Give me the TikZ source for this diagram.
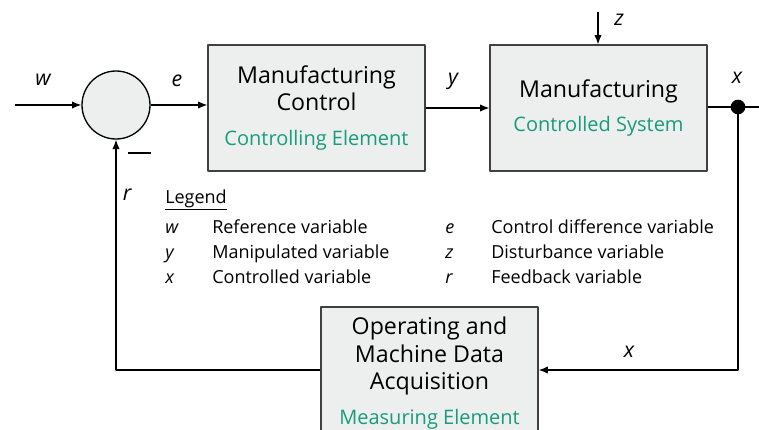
\documentclass[tikz,border=0pt]{standalone}
\usepackage{fontspec}
\setmainfont{Open Sans}
\usetikzlibrary{arrows.meta}
\definecolor{boxgray}{HTML}{EDEEEE}
\definecolor{fhgreen}{HTML}{179C7D}
\begin{document}
\begin{tikzpicture}[x=0.75pt,y=-0.75pt,line join=round,
	blok/.style={draw=black!75,fill=boxgray,line width=0.8pt,inner sep=0pt,
		minimum width=162.75pt,minimum height=94.5pt,align=center,
		font=\fontsize{17.4}{20.5}\selectfont},
	lbl/.style={font=\fontsize{16}{19}\selectfont\itshape},
	leg/.style={anchor=base west,inner sep=0pt,font=\fontsize{13.5}{16}\selectfont},
	arr/.style={-{Latex[length=7pt,width=5.5pt]},line width=1pt},
	ln/.style={line width=1pt}]
	%==khung hinh
	\clip (0,0) rectangle (759,429);
	%==cac khoi
	\node[circle,draw,fill=boxgray,line width=1pt,minimum size=51pt,inner sep=0pt] (sum) at (116,105) {};
	\node[blok] (ctrl) at (316.5,108) {Manufacturing\\Control\\[6pt]{\color{fhgreen}\fontsize{15}{17}\selectfont Controlling Element}};
	\node[blok] (sys) at (598.5,108) {Manufacturing\\[5pt]{\color{fhgreen}\fontsize{15}{17}\selectfont Controlled System}};
	\node[blok,minimum height=99.75pt] (meas) at (429.5,373.5) {Operating and\\Machine Data\\Acquisition\\[6pt]{\color{fhgreen}\fontsize{15}{17}\selectfont Measuring Element}};
	%==duong noi
	\coordinate (win) at (15,105);
	\coordinate (zin) at (598,12);
	\coordinate (out) at (770,107);
	\coordinate (k) at (738,370);
	\draw[arr] (win) -- (sum.west);
	\draw[arr] (sum.east) -- (sum.east -| ctrl.west);
	\draw[arr] (ctrl.east |- 0,108) -- (sys.west |- 0,108);
	\draw[arr] (zin) -- (zin |- sys.north);
	\draw[ln] (sys.east |- out) -- (out);
	\fill (738,107) circle (5.5pt) coordinate (dot);
	\draw[arr] (dot) -- (k) -- (k -| meas.east);
	\draw[arr] (k -| meas.west) -| (sum.south);
	\draw[line width=1.6pt] (128,153) -- (151,153);
	%==nhan
	\node[lbl] (lw) at (43,80) {w};
	\node[lbl] (le) at (177,81) {e};
	\node[lbl] (ly) at (453,81) {y};
	\node[lbl] (lz) at (619,20) {z};
	\node[lbl] (lx) at (737,78) {x};
	\node[lbl] (lx2) at (629,352) {x};
	\node[lbl] (lr) at (127,195) {r};
	%==chu thich
	\node[leg] (legend) at (165,203) {\underline{Legend}};
	\foreach \va/\ta/\vb/\tb [count=\i] in {w/Reference variable/e/Control difference variable,
		y/Manipulated variable/z/Disturbance variable,
		x/Controlled variable/r/Feedback variable}{
		\node[leg] (sa\i) at (165,{208+25*\i}) {\itshape\va};
		\node[leg] (ta\i) at (212,{208+25*\i}) {\ta};
		\node[leg] (sb\i) at (445,{208+25*\i}) {\itshape\vb};
		\node[leg] (tb\i) at (491,{208+25*\i}) {\tb};
	}
\end{tikzpicture}
\end{document}
